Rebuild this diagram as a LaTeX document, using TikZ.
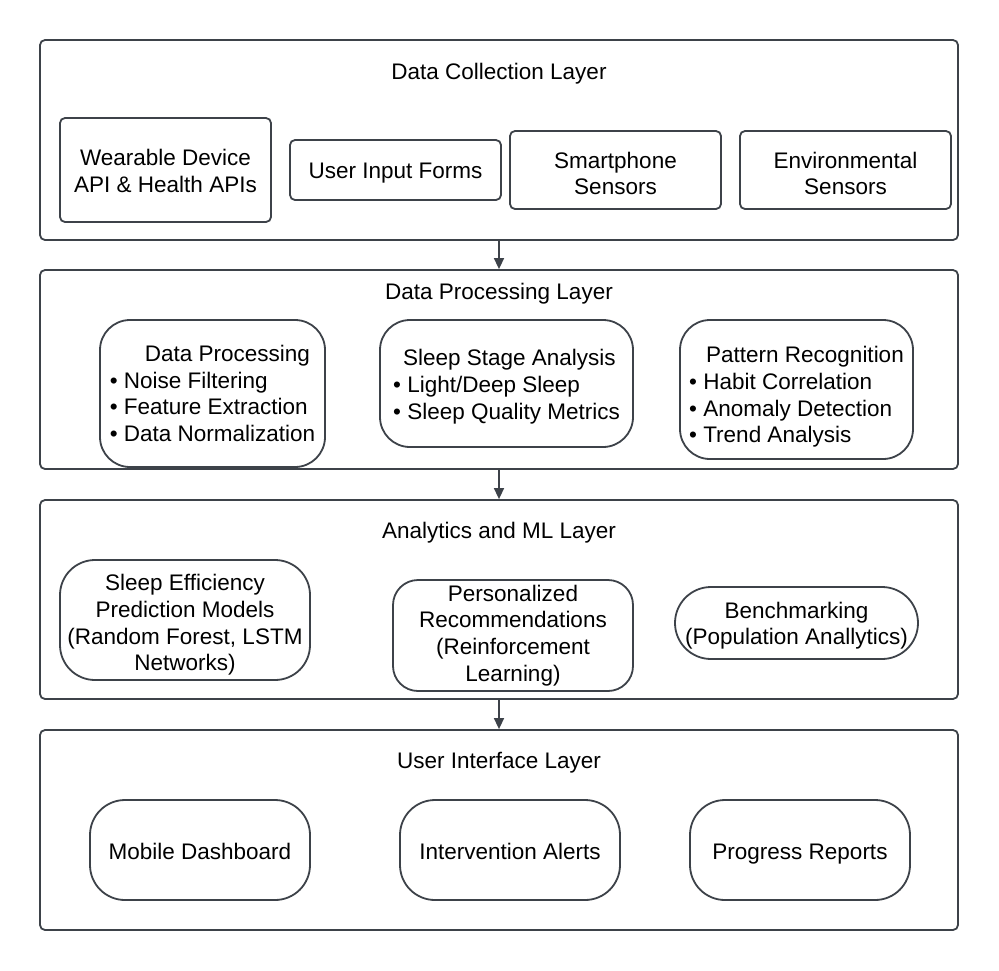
\documentclass[tikz,border=0pt]{standalone}
\usepackage{fontspec}
\setmainfont{Liberation Sans}
\usetikzlibrary{arrows.meta}
\definecolor{edge}{HTML}{3D4249}
\newcommand{\bodyfont}{\fontsize{22.5}{26.7}\selectfont}
\newcommand{\topgap}[1]{\rule{0pt}{#1}}
\tikzset{
  layerbox/.style={draw=edge, line width=1.8pt, rounded corners=5pt, fill=white},
  sqbox/.style={draw=edge, line width=1.8pt, rounded corners=5pt, fill=white, align=center, font=\bodyfont},
  rbox/.style={draw=edge, line width=1.8pt, rounded corners=30pt, fill=white, align=center, font=\bodyfont, inner sep=0pt},
  onebox/.style={rbox, rounded corners=35pt, minimum width=220, minimum height=100, text height=22pt, text depth=4pt},
  ltitle/.style={font=\bodyfont},
  arr/.style={draw=edge, line width=1.5pt, -{Triangle[length=11pt,width=10pt]}}
}
\begin{document}
\begin{tikzpicture}[x=1pt,y=-1pt]
\useasboundingbox (0,0) rectangle (999,970);
% Layers
\node[layerbox, minimum width=918, minimum height=200] (L1) at (499,140) {};
\node[layerbox, minimum width=918, minimum height=199] (L2) at (499,369.5) {};
\node[layerbox, minimum width=918, minimum height=199] (L3) at (499,599.5) {};
\node[layerbox, minimum width=918, minimum height=200] (L4) at (499,830) {};
\node[ltitle] (T1) at (499,73.5) {Data Collection Layer};
\node[ltitle] (T2) at (499,293.5) {Data Processing Layer};
\node[ltitle] (T3) at (499,532.5) {Analytics and ML Layer};
\node[ltitle] (T4) at (499,762.5) {User Interface Layer};
% Arrows
\draw[arr] (L1.south) -- (L2.north);
\draw[arr] (L2.south) -- (L3.north);
\draw[arr] (L3.south) -- (L4.north);
% Layer 1
\node[sqbox, minimum width=211, minimum height=104] (wd) at (165.5,170) {\topgap{18pt}Wearable Device\\API \& Health APIs};
\node[sqbox, minimum width=211, minimum height=60] (ui) at (395.5,170) {\topgap{22.5pt}User Input Forms};
\node[sqbox, minimum width=211, minimum height=78] (sp) at (615.5,170) {\topgap{23.5pt}Smartphone\\Sensors};
\node[sqbox, minimum width=211, minimum height=78] (env) at (845.5,170) {\topgap{23.5pt}Environmental\\Sensors};
% Layer 2
\node[rbox, align=left, minimum width=225, minimum height=147] (dp) at (212.5,393.5) {\hspace*{35pt}Data Processing\\• Noise Filtering\\• Feature Extraction\\• Data Normalization};
\node[rbox, align=left, minimum width=253, minimum height=127] (ss) at (506.5,383.5) {\topgap{22.5pt}\hspace*{10pt}Sleep Stage Analysis\\• Light/Deep Sleep\\• Sleep Quality Metrics};
\node[rbox, align=left, minimum width=233, minimum height=139] (pr) at (796.5,389.5) {\topgap{31pt}\hspace*{17pt}Pattern Recognition\\• Habit Correlation\\• Anomaly Detection\\• Trend Analysis};
% Layer 3
\node[rbox, rounded corners=35pt, minimum width=250, minimum height=120] (se) at (185,620) {\topgap{26.5pt}Sleep Efficiency\\Prediction Models\\(Random Forest, LSTM\\Networks)};
\node[rbox, rounded corners=25pt, minimum width=240, minimum height=111] (pe) at (513,635.5) {Personalized\\Recommendations\\(Reinforcement\\Learning)};
\node[rbox, rounded corners=36pt, minimum width=243, minimum height=72] (bm) at (796.5,623) {\topgap{21.5pt}Benchmarking\\(Population Anallytics)};
% Layer 4
\node[onebox] (md) at (200,850) {Mobile Dashboard};
\node[onebox] (ia) at (510,850) {Intervention Alerts};
\node[onebox] (pg) at (800,850) {Progress Reports};
\end{tikzpicture}
\end{document}
